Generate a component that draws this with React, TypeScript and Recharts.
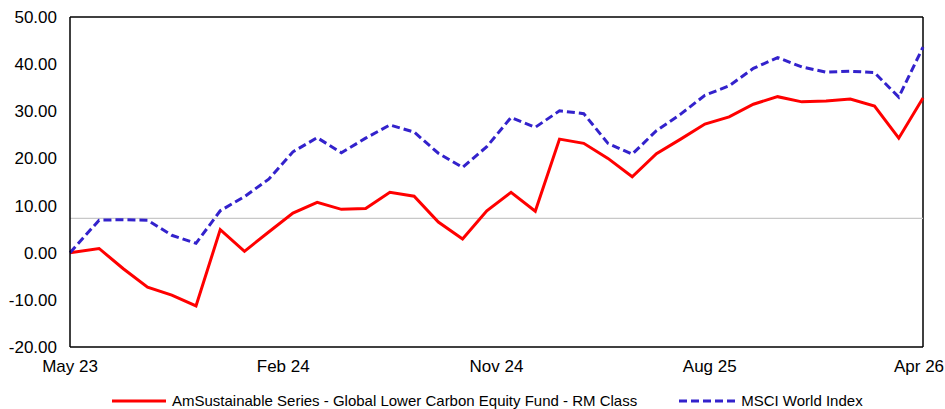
import React from 'react';
import { LineChart, Line, XAxis, YAxis, ReferenceLine, Legend } from 'recharts';

// month position of each observation (first one is a partial month)
const monthPos = [
  0, 1.2, 2.2, 3.2, 4.2, 5.2, 6.2, 7.2, 8.2, 9.2, 10.2, 11.2,
  12.2, 13.2, 14.2, 15.2, 16.2, 17.2, 18.2, 19.2, 20.2, 21.2, 22.2, 23.2,
  24.2, 25.2, 26.2, 27.2, 28.2, 29.2, 30.2, 31.2, 32.2, 33.2, 34.2, 35.2,
];

const fundValues = [
  0, 0.9, -3.4, -7.3, -9.0, -11.3, 4.9, 0.3, 4.4, 8.4, 10.7, 9.2,
  9.4, 12.8, 12.0, 6.5, 2.9, 8.9, 12.8, 8.8, 24.1, 23.2, 20.0, 16.1,
  21.0, 24.1, 27.3, 28.8, 31.5, 33.1, 32.0, 32.2, 32.6, 31.1, 24.3, 32.8,
];

const indexValues = [
  0, 6.9, 7.0, 6.9, 3.7, 2.0, 8.9, 11.9, 15.6, 21.4, 24.4, 21.2,
  24.3, 27.1, 25.6, 21.1, 18.1, 22.5, 28.7, 26.6, 30.1, 29.5, 23.2, 20.9,
  25.9, 29.4, 33.4, 35.4, 39.1, 41.4, 39.4, 38.3, 38.5, 38.2, 33.0, 43.6,
];

const tickLabels = ['May 23', 'Feb 24', 'Nov 24', 'Aug 25', 'Apr 26'];
const tickPos = [0, 8.8, 17.6, 26.4, 35.2];
const yTicks = [-20, -10, 0, 10, 20, 30, 40, 50];
const refValue = 7.3;

const FUND_NAME = 'AmSustainable Series - Global Lower Carbon Equity Fund - RM Class';
const INDEX_NAME = 'MSCI World Index';

const data = monthPos.map((t, i) => ({
  t,
  fund: fundValues[i],
  index: indexValues[i],
}));

const FONT = '"Liberation Sans", Arial, Helvetica, sans-serif';

// keep the last date label inside the frame
const DateTick = (props: any) => {
  const { x, y, payload, index } = props;
  const last = index === tickPos.length - 1;
  return (
    <text x={last ? x - 4 : x} y={y} dy={14} textAnchor="middle" fill="#000" fontSize={17} fontFamily={FONT}>
      {tickLabels[tickPos.indexOf(payload.value)] ?? ''}
    </text>
  );
};

const ChartLegend = () => (
  <div
    style={{
      display: 'flex',
      alignItems: 'center',
      fontFamily: FONT,
      fontSize: 15,
      lineHeight: '18px',
      color: '#000',
      paddingLeft: 112,
      height: 20,
      position: 'relative',
      top: 2,
    }}
  >
    <svg width={54} height={6} style={{ marginRight: 6 }}>
      <line x1={0} y1={3} x2={54} y2={3} stroke="#ff0000" strokeWidth={3} />
    </svg>
    <span>{FUND_NAME}</span>
    <svg width={56} height={6} style={{ marginLeft: 42, marginRight: 6 }}>
      <line x1={0} y1={3} x2={56} y2={3} stroke="#3322cc" strokeWidth={3} strokeDasharray="8 4" />
    </svg>
    <span>{INDEX_NAME}</span>
  </div>
);

export default function App() {
  return (
    <div style={{ position: 'absolute', left: 0, top: 0, width: 945, height: 409, background: '#fff' }}>
      <LineChart
        width={945}
        height={409}
        data={data}
        margin={{ top: 17, right: 22, left: 0, bottom: 12 }}
        style={{ fontFamily: FONT }}
      >
        <XAxis
          dataKey="t"
          type="number"
          domain={[0, 35.2]}
          ticks={tickPos}
          tick={<DateTick />}
          tickLine={false}
          tickMargin={5}
          axisLine={{ stroke: '#000', strokeWidth: 1.5 }}
          height={30}
          interval={0}
        />
        <YAxis
          type="number"
          domain={[-20, 50]}
          ticks={yTicks}
          tickFormatter={(v: number) => v.toFixed(2)}
          tickLine={false}
          tickMargin={7}
          axisLine={{ stroke: '#000', strokeWidth: 1.5 }}
          tick={{ fill: '#000', fontSize: 17 }}
          width={70}
          interval={0}
        />
        <ReferenceLine y={50} stroke="#000" strokeWidth={1.5} />
        <ReferenceLine x={35.2} stroke="#000" strokeWidth={1.5} />
        <ReferenceLine y={refValue} stroke="#c8c8c8" strokeWidth={1.2} />
        <Line
          type="linear"
          dataKey="fund"
          name={FUND_NAME}
          stroke="#ff0000"
          strokeWidth={3}
          dot={false}
          activeDot={false}
          isAnimationActive={false}
        />
        <Line
          type="linear"
          dataKey="index"
          name={INDEX_NAME}
          stroke="#3322cc"
          strokeWidth={3}
          strokeDasharray="8 4"
          dot={false}
          activeDot={false}
          isAnimationActive={false}
        />
        <Legend
          verticalAlign="bottom"
          content={() => <ChartLegend />}
          wrapperStyle={{ left: 0, width: 945, bottom: 0, height: 20 }}
        />
      </LineChart>
    </div>
  );
}
